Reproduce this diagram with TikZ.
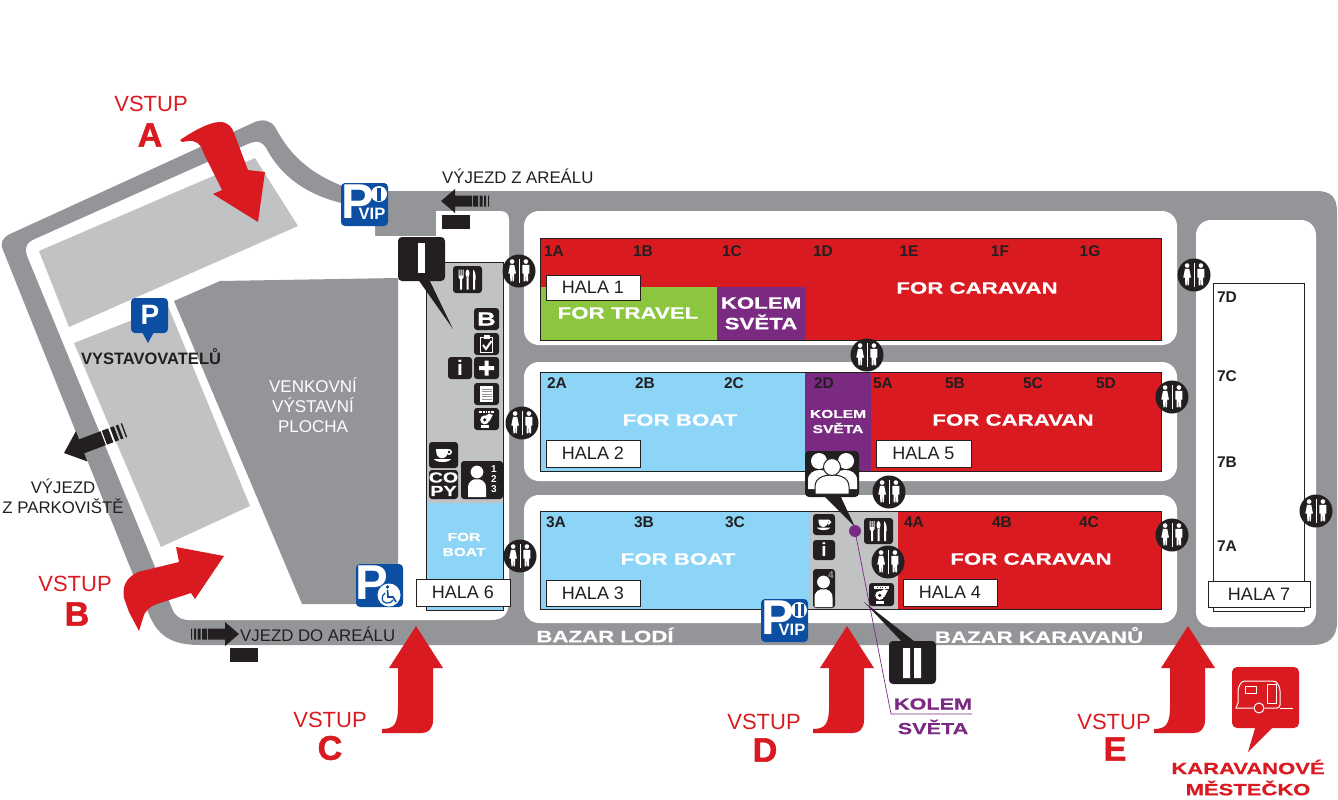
\documentclass[tikz,border=0pt]{standalone}
\usepackage{fontspec}
\setmainfont{Liberation Sans}
\newfontfamily\widefont[FakeStretch=1.35,FakeBold=0.6]{Liberation Sans Bold}
\newfontfamily\heavyfont[FakeBold=1.6]{Liberation Sans Bold}
\newcommand\setfs[1]{\fontsize{#1}{#1}\selectfont}

\definecolor{roadgrey}{HTML}{939598}
\definecolor{parkgrey}{HTML}{C1C2C4}
\definecolor{mapred}{HTML}{DA1A21}
\definecolor{mapblue}{HTML}{8DD5F7}
\definecolor{mappurple}{HTML}{7B2A82}
\definecolor{mapgreen}{HTML}{8CC63F}
\definecolor{signblue}{HTML}{0B4EA2}
\definecolor{iconblack}{HTML}{231F20}

\tikzset{
	hallbox/.style={draw=iconblack, line width=.6pt, fill=white},
	hallcode/.style={font=\bfseries\setfs{15.5}, text=iconblack, inner sep=0pt},
	halltext/.style={font=\setfs{18}, text=iconblack, inner sep=0pt},
	widewhite/.style={font=\widefont\setfs{16.5}, text=white, inner sep=0pt},
	smallwhite/.style={font=\widefont\setfs{11.5}, text=white, inner sep=0pt},
	entrytext/.style={font=\setfs{22}, text=mapred, inner sep=0pt},
	entryletter/.style={font=\heavyfont\setfs{34}, text=mapred, inner sep=0pt},
	roadtext/.style={font=\setfs{16.8}, text=iconblack, inner sep=0pt},
	iconbox/.style={fill=iconblack, rounded corners=3pt},
	signbox/.style={fill=signblue, rounded corners=4pt},
	redarrow/.style={fill=mapred},
	wcsign/.pic={
		\fill[iconblack] (0,0) circle (16.5);
		\begin{scope}[scale=.86]
		\fill[white] (-8,-11) circle (2.7) (8,-11) circle (2.7);
		\fill[white] (-10.5,-7)--(-5.5,-7)--(-3.5,3)--(-5.5,3)--(-6,12)--(-7.5,12)--(-8,3.5)--(-8.5,12)--(-10,12)--(-10.5,3)--(-12.5,3)--cycle;
		\fill[white] (4,-7)--(12,-7)--(12,3)--(10.5,3)--(10.5,12)--(8.5,12)--(8,3)--(7.5,12)--(5.5,12)--(5.5,3)--(4,3)--cycle;
		\draw[white, line width=.8pt] (0,-14) -- (0,14);
		\end{scope}
	},
	cutlery/.pic={
		\fill[white] (-9,-10)--(-8,-10)--(-8,-4)--(-7,-4)--(-7,-10)--(-6,-10)--(-6,-4)--(-5,-4)--(-5,-10)--(-4,-10)--(-4,-2)--(-5.5,0)--(-5.5,10)--(-7.5,10)--(-7.5,0)--(-9,-2)--cycle;
		\fill[white] (0,-6) ellipse (2 and 4) (-1,-3) rectangle (1,10);
		\fill[white] (5.5,-10) .. controls (8,-8) and (8.5,-3) .. (8,0) -- (7.5,0) -- (7.5,10) -- (5.5,10) -- cycle;
	},
	coffeecup/.pic={
		\fill[white] (-7,-6) -- (5,-6) .. controls (5,0) and (3,3) .. (0,3) -- (-2,3) .. controls (-5,3) and (-7,0) .. (-7,-6) -- cycle;
		\draw[white, line width=1.4pt] (6,-3) circle (2.2);
		\fill[white] (-9,4) -- (8,4) .. controls (6,8) and (-7,8) .. (-9,4) -- cycle;
	},
	cashsign/.pic={
		\fill[white] (-8,-9) rectangle (8,-6.5);
		\foreach \dx in {-5,-2,...,6} \fill[iconblack] (\dx,-8.5) rectangle (\dx+1,-7);
		\fill[white] (-2,-3) -- (3,-6) -- (7,-4.5) -- (3,3) -- cycle;
		\fill[white] (-2,1) circle (5);
		\fill[iconblack] (-2,1) circle (2);
		\fill[white] (-6,7) rectangle (3,10);
	},
	docsign/.pic={
		\fill[white] (-6.5,-8) rectangle (6.5,8);
		\foreach \ln in {-5,-2.5,...,6} \draw[roadgrey, line width=.8pt] (-5,\ln) -- (5,\ln);
	},
	checksign/.pic={
		\draw[white, line width=1.2pt] (-6,-6.5) rectangle (6,8.5);
		\fill[white] (-3,-9) rectangle (3,-5.5);
		\draw[white, line width=2pt] (-3.5,1) -- (-.5,5) -- (5,-3);
	},
	personsign/.pic={
		\fill[white] (-9,18)--(-9,9) .. controls (-9,2) and (-4,0) .. (0,0) .. controls (4,0) and (9,2) .. (9,9)--(9,18)--cycle;
		\fill[white, draw=iconblack, line width=1pt] (0,-7) circle (7);
	},
	exitarrow/.pic={
		\fill[iconblack] (0,0)--(14,-12)--(14,-5.5)--(31,-5.5)--(31,5.5)--(14,5.5)--(14,12)--cycle;
		\fill[iconblack] (32,-5.5) rectangle (37,5.5) (38.5,-5.5) rectangle (41.5,5.5) (43,-5.5) rectangle (45,5.5) (47,-5.5) rectangle (48,5.5);
	},
	pvipbase/.pic={
		\fill[signbox] (0,0) rectangle (47,43);
		\node[font=\bfseries\setfs{49}, text=white, inner sep=0pt] (-plet) at (17,19) {P};
		\node[font=\bfseries\setfs{16.5}, text=white, inner sep=0pt] (-vip) at (31,31) {VIP};
		\fill[white] (38,11) circle (8);
	},
	upentry/.pic={
		\fill[redarrow] (0,0)--(27,42)--(17,42)--(17,94) .. controls (17,103) and (12,107) .. (6,107)--(-34,107)--(-34,103) .. controls (-22,103) and (-18,98) .. (-18,80)--(-18,42)--(-27,42)--cycle;
	}
}

\begin{document}
\begin{tikzpicture}[x=1pt,y=-1pt]
\useasboundingbox (0,0) rectangle (1338,800);

% roads
\fill[roadgrey] (3,250) .. controls (0,243) and (2,238) .. (10,234) -- (255,122) .. controls (263,119) and (270,120) .. (275,127) .. controls (285,145) and (300,170) .. (345,187) -- (350,191) -- (1316,191) .. controls (1331,191) and (1337,197) .. (1337,212) -- (1337,622) .. controls (1337,638) and (1328,645) .. (1312,645) -- (200,645) .. controls (170,645) and (157,635) .. (148,612) -- cycle;

% white islands
\fill[white] (28,258) .. controls (24,248) and (26,243) .. (35,239) -- (248,144) .. controls (258,140) and (262,142) .. (266,148) .. controls (280,175) and (305,195) .. (345,204) -- (375,206) -- (375,236) -- (436,236) -- (436,211) -- (500,211) .. controls (506,211) and (509,214) .. (509,220) -- (509,600) .. controls (509,615) and (503,620) .. (490,620) -- (190,620) .. controls (180,620) and (175,616) .. (172,608) -- cycle;
\fill[white, rounded corners=15pt] (524,211) rectangle (1177,345);
\fill[white, rounded corners=15pt] (524,362) rectangle (1177,481);
\fill[white, rounded corners=15pt] (524,495) rectangle (1177,623);
\fill[white, rounded corners=15pt] (1196,220) rectangle (1316,627);

% parking and outdoor area
\fill[parkgrey] (39,251) -- (255,158) -- (298,226) -- (69,327) -- cycle;
\fill[parkgrey] (74,343) -- (168,306) -- (250,506) -- (161,547) -- cycle;
\fill[roadgrey] (174,301) -- (220,281) -- (398,278) -- (398,604) -- (302,604) -- cycle;
\node[font=\setfs{17}, text=white, align=center, inner sep=0pt] (venkovni) at (313,405) {VENKOVNÍ\\[3pt]VÝSTAVNÍ\\[3pt]PLOCHA};

% halls
\fill[mapred] (540,238) rectangle (1161,340);
\fill[mapgreen] (540,287) rectangle (717,340);
\fill[mappurple] (717,287) rectangle (805,340);
\fill[mapblue] (540,372) rectangle (805,471);
\fill[mappurple] (805,372) rectangle (871,471);
\fill[mapred] (871,372) rectangle (1161,471);
\fill[mapblue] (540,511) rectangle (809,609);
\fill[parkgrey] (809,511) rectangle (898,609);
\fill[mapred] (898,511) rectangle (1161,609);
\draw[iconblack, line width=.5pt] (540,238) rectangle (1161,340) (540,372) rectangle (1161,471) (540,511) rectangle (1161,609);
\fill[parkgrey] (426,262) rectangle (503,503);
\fill[mapblue] (426,503) rectangle (503,610);
\draw[iconblack, line width=.5pt] (426,262) rectangle (503,610);
\draw[iconblack, line width=.6pt, fill=white] (1213,283) rectangle (1304,611);

\draw[hallbox] (546,275) rectangle (640,300) node[pos=.5, halltext] (hala1) {HALA 1};
\draw[hallbox] (546,440) rectangle (640,467) node[pos=.5, halltext] (hala2) {HALA 2};
\draw[hallbox] (546,580) rectangle (640,606) node[pos=.5, halltext] (hala3) {HALA 3};
\draw[hallbox] (903,579) rectangle (997,606) node[pos=.5, halltext] (hala4) {HALA 4};
\draw[hallbox] (876,440) rectangle (971,467) node[pos=.5, halltext] (hala5) {HALA 5};
\draw[hallbox] (416,579) rectangle (510,606) node[pos=.5, halltext] (hala6) {HALA 6};
\draw[hallbox] (1208,581) rectangle (1310,607) node[pos=.5, halltext] (hala7) {HALA 7};

\foreach \nm/\x in {1A/554,1B/643,1C/732,1D/823,1E/909,1F/1000,1G/1090}
	\node[hallcode] (code\nm) at (\x,251) {\nm};
\foreach \nm/\x in {2A/557,2B/645,2C/734,2D/824,5A/883,5B/955,5C/1033,5D/1106}
	\node[hallcode] (code\nm) at (\x,383) {\nm};
\foreach \nm/\x in {3A/556,3B/644,3C/735,4A/914,4B/1002,4C/1089}
	\node[hallcode] (code\nm) at (\x,522) {\nm};
\foreach \nm/\y in {7D/297,7C/376,7B/462,7A/546}
	\node[hallcode] (code\nm) at (1227,\y) {\nm};

\node[widewhite] (forcar1) at (977,288) {FOR CARAVAN};
\node[widewhite] (forcar2) at (1013,420) {FOR CARAVAN};
\node[widewhite] (forcar3) at (1031,559) {FOR CARAVAN};
\node[widewhite] (fortravel) at (628,313) {FOR TRAVEL};
\node[widewhite] (forboat1) at (680,420) {FOR BOAT};
\node[widewhite] (forboat2) at (678,559) {FOR BOAT};
\node[widewhite] (kolem1) at (761,303) {KOLEM};
\node[widewhite] (svet1) at (761,322) {SVĚTA};
\node[smallwhite] (kolem2) at (838,414) {KOLEM};
\node[smallwhite] (svet2) at (838,428) {SVĚTA};
\node[smallwhite] (for6) at (464,537) {FOR};
\node[smallwhite] (boat6) at (464,552) {BOAT};
\node[widewhite] (bazar1) at (605,635) {BAZAR LODÍ};
\node[widewhite] (bazar2) at (1039,635) {BAZAR KARAVANŮ};

% road signs
\pic[rotate=20.7, scale=1.35] at (64,453) {exitarrow};
\pic at (441,201) {exitarrow};
\fill[iconblack] (442,215) rectangle (470,229);
\pic[rotate=180] at (239,634) {exitarrow};
\fill[iconblack] (230,648) rectangle (258,662);
\node[roadtext, anchor=west] (vyjezd) at (442,176) {VÝJEZD Z AREÁLU};
\node[roadtext, anchor=west] (vjezd) at (240,634) {VJEZD DO AREÁLU};
\node[roadtext, align=center] (parkexit) at (63,496) {VÝJEZD\\[3pt]Z PARKOVIŠTĚ};
\node[font=\bfseries\setfs{16.5}, text=iconblack, inner sep=0pt] (vystav) at (151,357) {VYSTAVOVATELŮ};

% red entries
\fill[redarrow] (180,140) .. controls (195,130) and (210,122) .. (220,122) .. controls (228,122) and (232,127) .. (234,133) -- (248,170) -- (265,172) -- (258,222) -- (213,194) -- (222,190) -- (203,152) .. controls (201,144) and (196,140) .. (188,141) -- (182,142) -- cycle;
\fill[redarrow] (139,631) -- (129,612) -- (124,598) .. controls (122,586) and (126,578) .. (138,572) -- (179,562) -- (176,547) -- (224,556) -- (195,599) -- (191,593) -- (157,604) .. controls (150,606) and (144,612) .. (143,618) -- cycle;
\foreach \ex in {0,431,772}
	\pic at (416+\ex,626) {upentry};
\node[entrytext] (vstupa) at (151,104) {VSTUP};
\node[entrytext] (vstupb) at (75,584) {VSTUP};
\node[entrytext] (vstupc) at (330,720) {VSTUP};
\node[entrytext] (vstupd) at (764,722) {VSTUP};
\node[entrytext] (vstupe) at (1114,722) {VSTUP};
\node[entryletter] (leta) at (150,135) {A};
\node[entryletter] (letb) at (77,614) {B};
\node[entryletter] (letc) at (330,748) {C};
\node[entryletter] (letd) at (765,750) {D};
\node[entryletter] (lete) at (1115,749) {E};

% wc signs
\foreach \wx/\wy in {519/271,522/423,520/556,867/355,889/492,888/562,1172/397,1172/535,1194/275,1316/511}
	\pic at (\wx,\wy) {wcsign};

% icons in hall 6
\fill[iconbox] (453,266) rectangle (482,293);
\pic at (467.5,279.5) {cutlery};
\fill[iconbox] (474,308) rectangle (499,330);
\node[font=\widefont\setfs{19}, text=white, inner sep=0pt] (iconb) at (486.5,319) {B};
\fill[iconbox] (474,333) rectangle (499,355);
\pic at (486.5,344) {checksign};
\fill[iconbox] (448,357) rectangle (472,379);
\node[font=\bfseries\setfs{21}, text=white, inner sep=0pt] (infoa) at (460,368) {i};
\fill[iconbox] (474,357) rectangle (499,379);
\fill[white] (484.5,360.5) rectangle (488.5,375.5) (479,366) rectangle (494,370);
\fill[iconbox] (474,383) rectangle (499,405);
\pic at (486.5,394) {docsign};
\fill[iconbox] (474,408) rectangle (499,430);
\pic[scale=.9] at (486.5,419) {cashsign};
\fill[iconbox] (429,442) rectangle (458,468);
\pic at (443,455) {coffeecup};
\fill[iconbox] (429,470) rectangle (458,499);
\node[font=\widefont\setfs{14.5}, text=white, inner sep=0pt] (copya) at (443.5,477.5) {CO};
\node[font=\widefont\setfs{14.5}, text=white, inner sep=0pt] (copyb) at (443.5,491) {PY};
\fill[iconbox] (461,461) rectangle (503,499);
\pic at (477,479) {personsign};
\foreach \num/\ny in {1/469,2/479,3/489}
	\node[font=\bfseries\setfs{10}, text=white, inner sep=0pt] (num\num) at (494,\ny) {\num};

% icons in hall 3
\fill[iconbox] (813,514) rectangle (835,535);
\pic[scale=.8] at (824,524.5) {coffeecup};
\fill[iconbox] (813,540) rectangle (835,560);
\node[font=\bfseries\setfs{19}, text=white, inner sep=0pt] (infob) at (824,550) {i};
\fill[iconbox] (813,569) rectangle (835,608);
\pic at (823.5,589) {personsign};
\node[font=\bfseries\setfs{10}, text=roadgrey, inner sep=0pt] (numd) at (831,575) {4};
\fill[iconbox] (864,518) rectangle (893,544);
\pic at (878.5,531) {cutlery};
\fill[iconbox] (869,583) rectangle (894,606);
\pic[scale=.9] at (881.5,594.5) {cashsign};

% black callouts
\fill[iconblack] (415,275) -- (427,275) -- (453,329) -- cycle;
\fill[iconblack, rounded corners=4pt] (398,237) rectangle (445,281);
\fill[white] (418,243) rectangle (425,273);
\fill[iconblack] (905,645) -- (919,645) -- (864,602) -- cycle;
\fill[iconblack, rounded corners=4pt] (889,641) rectangle (936,684);
\fill[white] (903,648) rectangle (910,678) (914,648) rectangle (921,678);

\coordinate (kolemdot) at (855,531);
\coordinate (kolembend) at (891,714);
\coordinate (kolemend) at (972,714);
\draw[mappurple, line width=.7pt] (kolemdot) -- (kolembend) -- (kolemend);
\fill[iconblack] (823,495) -- (840,495) -- (855,527) -- cycle;
\fill[iconblack, rounded corners=4pt] (805,451) rectangle (859,497);
\fill[white] (819,461) circle (8) (846,461) circle (8);
\fill[white] (808,489) -- (808,480) .. controls (808,473) and (814,470) .. (820,470) .. controls (826,470) and (832,473) .. (832,480) -- (832,489) -- cycle;
\fill[white] (857,489) -- (857,480) .. controls (857,473) and (851,470) .. (845,470) .. controls (839,470) and (833,473) .. (833,480) -- (833,489) -- cycle;
\fill[white, draw=iconblack, line width=1pt] (815,494) -- (815,487) .. controls (815,478) and (823,475) .. (832,475) .. controls (841,475) and (849,478) .. (849,487) -- (849,494) -- cycle;
\fill[white, draw=iconblack, line width=1pt] (832,467) circle (8.5);
\fill[mappurple] (kolemdot) circle (6);
\node[font=\widefont\setfs{16}, text=mappurple, inner sep=0pt] (kolemlbl) at (933,704) {KOLEM};
\node[font=\widefont\setfs{16}, text=mappurple, inner sep=0pt] (svetlbl) at (933,727) {SVĚTA};

% parking signs
\pic (vipa) at (341,183) {pvipbase};
\fill[signblue] (377,187.5) rectangle (381,200.5);
\pic (vipb) at (761,599) {pvipbase};
\fill[signblue] (795,604) rectangle (798,616) (801,604) rectangle (804,616);
\fill[signbox] (356,564) rectangle (403,607);
\node[font=\bfseries\setfs{49}, text=white, inner sep=0pt] (pdis) at (372,583) {P};
\fill[white] (389,595) circle (11.5);
\fill[signblue] (387.5,587) circle (1.9);
\draw[signblue, line width=1.7pt] (387.5,590) -- (388,597) -- (393,597) -- (396,602);
\draw[signblue, line width=1.2pt] (385,593) .. controls (381,596) and (381,602) .. (386,603) .. controls (389,604) and (392,602) .. (393,600);
\fill[signblue] (142,332) -- (154,332) -- (148,343) -- cycle;
\fill[signbox] (131,298) rectangle (168,333);
\node[font=\bfseries\setfs{28}, text=white, inner sep=0pt] (ppin) at (150,315) {P};

% caravan sign
\fill[mapred] (1256,725) -- (1275,725) -- (1248,752) -- cycle;
\fill[mapred, rounded corners=5pt] (1232,667) rectangle (1299,728);
\draw[white, line width=1pt, rounded corners=3pt] (1238,703) -- (1238,688) -- (1242,681) -- (1276,681) -- (1280,688) -- (1280,708) -- (1265,708);
\draw[white, line width=1pt] (1238,703) -- (1236,708) -- (1253,708);
\draw[white, line width=1pt] (1280,708) -- (1293,708);
\draw[white, line width=1pt] (1259,708) circle (5);
\draw[white, line width=1pt] (1245,686) rectangle (1256,693);
\draw[white, line width=1pt] (1267.5,684) rectangle (1276,703);
\node[font=\widefont\setfs{16.3}, text=mapred, inner sep=0pt] (karavan) at (1248,767) {KARAVANOVÉ};
\node[font=\widefont\setfs{16.3}, text=mapred, inner sep=0pt] (mestecko) at (1248,788) {MĚSTEČKO};

\end{tikzpicture}
\end{document}
